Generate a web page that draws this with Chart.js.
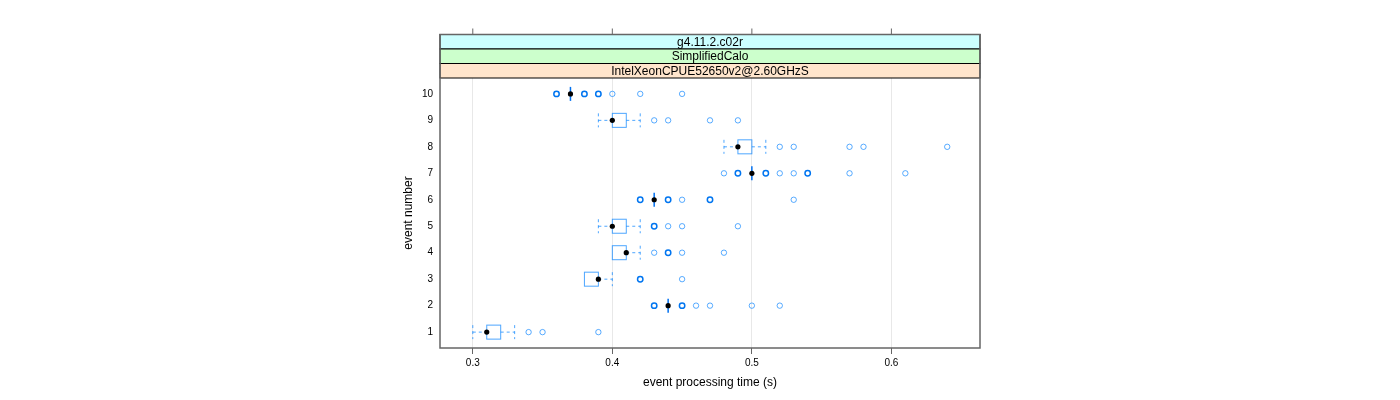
<!DOCTYPE html>
<html>
<head>
<meta charset="utf-8">
<script src="https://cdn.jsdelivr.net/npm/chart.js@4/dist/chart.umd.min.js"></script>
<style>
  body { margin: 0; background: #fff; }
  #wrap { width: 1400px; height: 400px; }
</style>
</head>
<body>
<div id="wrap"><canvas id="bwChart"></canvas></div>
<script>
// event numbers and x ticks
const events = [1, 2, 3, 4, 5, 6, 7, 8, 9, 10];
const xTicks = [0.3, 0.4, 0.5, 0.6];
const strips = ["g4.11.2.c02r", "SimplifiedCalo", "IntelXeonCPUE52650v2@2.60GHzS"];
const stripColors = ["#ccffff", "#ccffcc", "#ffe5cc"];

// box statistics per event (seconds)
const whiskerLow  = [0.30, 0.44, 0.38, 0.40, 0.39, 0.43, 0.50, 0.48, 0.39, 0.37];
const q1          = [0.31, 0.44, 0.38, 0.40, 0.40, 0.43, 0.50, 0.49, 0.40, 0.37];
const medians     = [0.31, 0.44, 0.39, 0.41, 0.40, 0.43, 0.50, 0.49, 0.40, 0.37];
const q3          = [0.32, 0.44, 0.39, 0.41, 0.41, 0.43, 0.50, 0.50, 0.41, 0.37];
const whiskerHigh = [0.33, 0.44, 0.40, 0.42, 0.42, 0.43, 0.50, 0.51, 0.42, 0.37];

// outliers, one list per event; repeated values drawn darker
const outliers = [
    [0.34, 0.35, 0.39],
    [0.46, 0.47, 0.50, 0.52],
    [0.45],
    [0.43, 0.45, 0.48],
    [0.44, 0.45, 0.49],
    [0.45, 0.53],
    [0.48, 0.52, 0.53, 0.57, 0.61],
    [0.52, 0.53, 0.57, 0.58, 0.64],
    [0.43, 0.44, 0.47, 0.49],
    [0.40, 0.42, 0.45],
];
const repeated = [
    [],
    [0.43, 0.45],
    [0.42],
    [0.44],
    [0.43],
    [0.42, 0.44, 0.47],
    [0.49, 0.51, 0.54],
    [],
    [],
    [0.36, 0.38, 0.39],
];

function toPoints(lists) {
    const pts = [];
    lists.forEach((vals, i) => vals.forEach(v => pts.push({ x: v, y: events[i] })));
    return pts;
}

const boxPlugin = {
    id: "boxes",
    beforeDatasetsDraw(chart) {
        const ctx = chart.ctx;
        const xs = chart.scales.x, ys = chart.scales.y;
        const h = 7;
        ctx.save();
        events.forEach((ev, i) => {
            const y = ys.getPixelForValue(ev);
            const xl = xs.getPixelForValue(whiskerLow[i]);
            const x1 = xs.getPixelForValue(q1[i]);
            const x3 = xs.getPixelForValue(q3[i]);
            const xh = xs.getPixelForValue(whiskerHigh[i]);
            ctx.strokeStyle = "rgba(0,128,255,0.7)";
            ctx.lineWidth = 1;
            ctx.setLineDash([3, 3]);
            ctx.beginPath();
            if (xl < x1) {
                ctx.moveTo(xl, y); ctx.lineTo(x1, y);
                ctx.moveTo(xl, y - h); ctx.lineTo(xl, y + h);
            }
            if (xh > x3) {
                ctx.moveTo(x3, y); ctx.lineTo(xh, y);
                ctx.moveTo(xh, y - h); ctx.lineTo(xh, y + h);
            }
            ctx.stroke();
            ctx.setLineDash([]);
            if (x3 - x1 < 0.5) {
                ctx.strokeStyle = "#0070f0";
                ctx.lineWidth = 1.5;
                ctx.beginPath();
                ctx.moveTo(x1, y - h); ctx.lineTo(x1, y + h);
                ctx.stroke();
            } else {
                ctx.strokeRect(x1, y - h, x3 - x1, 2 * h);
            }
        });
        ctx.restore();
    },
    afterDraw(chart) {
        const ctx = chart.ctx;
        const a = chart.chartArea;
        const xs = chart.scales.x;
        const sh = 14.5;
        ctx.save();
        // strips
        ctx.font = "12px 'Liberation Sans', Arial, sans-serif";
        ctx.textAlign = "center";
        ctx.textBaseline = "middle";
        strips.forEach((s, i) => {
            const top = a.top - sh * (strips.length - i);
            ctx.fillStyle = stripColors[i];
            ctx.fillRect(a.left, top, a.right - a.left, sh);
            ctx.strokeStyle = "#000";
            ctx.lineWidth = 1;
            ctx.strokeRect(a.left, top, a.right - a.left, sh);
            ctx.fillStyle = "#000";
            ctx.fillText(s, (a.left + a.right) / 2, top + sh / 2 + 0.5);
        });
        const stripTop = a.top - sh * strips.length;
        // panel outline
        ctx.strokeStyle = "#666";
        ctx.lineWidth = 1.5;
        ctx.strokeRect(a.left, stripTop, a.right - a.left, a.bottom - stripTop);
        // top ticks
        ctx.lineWidth = 1;
        ctx.beginPath();
        xTicks.forEach(t => {
            const x = xs.getPixelForValue(t);
            ctx.moveTo(x, stripTop);
            ctx.lineTo(x, stripTop - 6);
        });
        ctx.stroke();
        ctx.restore();
    }
};

const ctx = document.getElementById("bwChart").getContext("2d");
new Chart(ctx, {
    type: "scatter",
    data: {
        datasets: [
            {
                label: "outliers",
                data: toPoints(outliers),
                pointRadius: 2.7,
                pointBorderWidth: 1,
                pointBackgroundColor: "rgba(0,0,0,0)",
                pointBorderColor: "rgba(0,128,255,0.65)",
            },
            {
                label: "repeated",
                data: toPoints(repeated),
                pointRadius: 2.7,
                pointBorderWidth: 1.5,
                pointBackgroundColor: "rgba(0,0,0,0)",
                pointBorderColor: "#0075f0",
            },
            {
                label: "median",
                data: medians.map((m, i) => ({ x: m, y: events[i] })),
                pointRadius: 2.6,
                pointBorderWidth: 0,
                pointBackgroundColor: "#000",
            },
        ],
    },
    options: {
        responsive: true,
        maintainAspectRatio: false,
        animation: false,
        layout: {
            padding: { left: 380, right: 420, top: 78, bottom: 0 },
        },
        plugins: {
            legend: { display: false },
            tooltip: { enabled: false },
        },
        scales: {
            x: {
                min: 0.2765,
                max: 0.6635,
                afterBuildTicks: (scale) => { scale.ticks = xTicks.map(v => ({ value: v })); },
                afterFit: (scale) => { scale.height = 52; },
                grid: { color: "#e8e8e8", tickColor: "#666", tickLength: 6 },
                border: { display: false },
                ticks: {
                    padding: 3,
                    color: "#000",
                    font: { family: "'Liberation Sans', Arial, sans-serif", size: 10 },
                    maxRotation: 0,
                },
                title: {
                    display: true,
                    text: "event processing time (s)",
                    color: "#000",
                    font: { family: "'Liberation Sans', Arial, sans-serif", size: 12 },
                    padding: { top: 0, bottom: 10 },
                },
            },
            y: {
                min: 0.4,
                max: 10.6,
                afterBuildTicks: (scale) => { scale.ticks = events.map(v => ({ value: v })); },
                afterFit: (scale) => { scale.width = 60; },
                grid: { display: false, drawTicks: false },
                border: { display: false },
                ticks: {
                    padding: 7,
                    color: "#000",
                    font: { family: "'Liberation Sans', Arial, sans-serif", size: 10 },
                },
                title: {
                    display: true,
                    text: "event number",
                    color: "#000",
                    font: { family: "'Liberation Sans', Arial, sans-serif", size: 12 },
                    padding: { top: 21, bottom: 0 },
                },
            },
        },
    },
    plugins: [boxPlugin],
});
</script>
</body>
</html>
